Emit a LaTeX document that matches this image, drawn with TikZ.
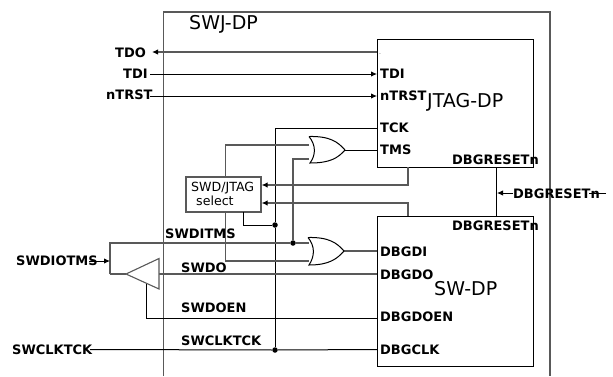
\documentclass[tikz,border=0pt]{standalone}
\usepackage{fontspec}
\setmainfont{DejaVu Sans}
\usetikzlibrary{arrows.meta}
\definecolor{grayline}{gray}{0.35}
\tikzset{
  x=1pt,y=-1pt,
  wire/.style={line width=1pt,black},
  gwire/.style={line width=1.3pt,grayline},
  arr/.style={-{Latex[length=6pt,width=5.5pt,black]}},
  lab/.style={font=\fontsize{13}{15}\selectfont\bfseries,inner sep=0pt,anchor=base west},
  big/.style={font=\fontsize{19}{22}\selectfont,inner sep=0pt,anchor=base west},
  seltext/.style={font=\fontsize{12.6}{15}\selectfont,inner sep=0pt,anchor=base west},
  dot/.style={circle,fill=black,inner sep=0pt,minimum size=5.5pt},
  blockbox/.style={draw=black,line width=1pt,inner sep=0pt},
  sel/.style={draw=grayline,line width=1.2pt,fill=white,minimum width=75pt,minimum height=35pt,inner sep=0pt},
  gate/.style={draw=black,line width=1pt,fill=white}
}
\begin{document}
\begin{tikzpicture}
\useasboundingbox (0,0) rectangle (613,376);
% outer
\draw[line width=1.2pt,grayline] (163.5,376) -- (163.5,12) -- (550,12) -- (550,376);
\node[big] (swj) at (189,29) {SWJ-DP};
% blocks
\node[blockbox,minimum width=156pt,minimum height=128pt] (jtag) at (455,103) {};
\node[blockbox,minimum width=156pt,minimum height=150pt] (sw) at (455,291) {};
\node[big] (jtagl) at (427,107) {JTAG-DP};
\node[big] (swl) at (434,295) {SW-DP};
% coordinates
\coordinate (tdoe) at (377,52); \coordinate (tdif) at (377,74); \coordinate (ntrf) at (377,96);
\coordinate (tck) at (377,128); \coordinate (tms) at (377,150);
\coordinate (ga) at (309,145); \coordinate (gb) at (309,159); \coordinate (go) at (345,150);
\coordinate (ha) at (309,243); \coordinate (hb) at (309,261); \coordinate (ho) at (344,251);
\coordinate (dgi) at (377,251); \coordinate (dgo) at (377,274); \coordinate (dgoe) at (377,318); \coordinate (dck) at (377,349.5);
\coordinate (jb) at (408,167); \coordinate (st) at (408,216);
\coordinate (rj) at (496,167); \coordinate (rs) at (496,216); \coordinate (rm) at (497,193);
\coordinate (rin) at (513,193); \coordinate (rext) at (606,193); \coordinate (rtail) at (589,193);
\coordinate (left) at (110,243); \coordinate (lefb) at (110,274);
\coordinate (ti) at (146,283);
\coordinate (tb) at (159,274);
\coordinate (sioa) at (89,261); \coordinate (siob) at (110,261);
\coordinate (tip) at (126,274);
% select
\node[sel] (select) at (223.5,194.5) {};
\node[seltext] (sela) at (191,191) {SWD/JTAG};
\node[seltext] (selb) at (196,205) {select};
% junctions
\node[dot] (d1) at (275,225) {};
\node[dot] (d2) at (275,350) {};
\node[dot] (d3) at (293,243) {};
% connectors
\draw[gwire,arr] (tdoe) -- (152,52);
\draw[wire,arr] (150,74) -- (tdif);
\draw[wire,arr] (150,96) -- (ntrf);
\draw[wire] (tck) -- (275,128) -- (d1) -- (d2);
\draw[wire] (go) -- (tms);
\draw[gwire] (ga) -- (225.5,145) -- (225.5,177);
\draw[gwire] (225.5,212) -- (225.5,261) -- (hb);
\draw[gwire] (gb) -- (293,159) -- (d3);
\draw[gwire] (lefb) -- (left) -- (d3) -- (ha);
\draw[gwire] (ho) -- (dgi);
\draw[gwire] (tb) -- (dgo);
\draw[wire] (243.5,212) -- (243.5,225) -- (d1);
\draw[gwire] (lefb) -- (tip);
\draw[wire] (ti) -- (146,318) -- (dgoe);
\draw[wire] (90,349.5) -- (d2) -- (dck);
\draw[gwire,arr] (jb) -- (408,185) -- (select.east |- 0,185);
\draw[gwire,arr] (st) -- (408,203) -- (select.east |- 0,203);
\draw[wire] (rj) -- (rs);
\draw[wire,arr] (rin) -- (rm);
\draw[wire] (rext) -- (rtail);
\draw[wire,arr] (sioa) -- (siob);
% triangle
\draw[draw=grayline,line width=1.1pt,fill=white] (tip) -- (159,258.5) -- (159,289) -- cycle;
% gates
\draw[gate] (309,136.5) .. controls (330,136) and (338,142) .. (go) .. controls (338,158) and (330,163) .. (310,163) .. controls (316,155) and (316,145) .. (309,136.5);
\draw[gate] (308,237.5) .. controls (329,237) and (337,243) .. (ho) .. controls (337,259) and (329,265) .. (309,265) .. controls (315,256) and (315,246) .. (308,237.5);
% labels
\node[lab] (ltdo) at (115,57) {TDO};
\node[lab] (ltdi) at (123,78) {TDI};
\node[lab] (lntr) at (106,99) {nTRST};
\node[lab] (itdi) at (380,78) {TDI};
\node[lab] (intr) at (380,100) {nTRST};
\node[lab] (itck) at (380,132) {TCK};
\node[lab] (itms) at (380,154) {TMS};
\node[lab] (irj) at (452,164) {DBGRESETn};
\node[lab] (irs) at (452,230) {DBGRESETn};
\node[lab] (irx) at (513,198) {DBGRESETn};
\node[lab] (iswdit) at (165,238) {SWDITMS};
\node[lab] (iswdio) at (16,265) {SWDIOTMS};
\node[lab] (iswdo) at (181,272) {SWDO};
\node[lab] (iswden) at (181,312) {SWDOEN};
\node[lab] (iswck) at (181,345) {SWCLKTCK};
\node[lab] (iswckl) at (12,354) {SWCLKTCK};
\node[lab] (idgi) at (380,256) {DBGDI};
\node[lab] (idgo) at (380,279) {DBGDO};
\node[lab] (idgoe) at (380,321) {DBGDOEN};
\node[lab] (idck) at (380,354) {DBGCLK};
\node[inner sep=0pt,font=\tiny,text=grayline] (tick) at (380,55) {-};
\end{tikzpicture}
\end{document}
